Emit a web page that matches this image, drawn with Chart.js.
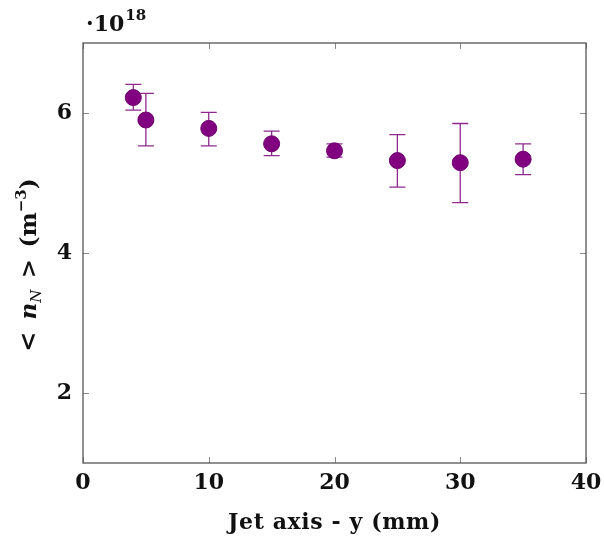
<!DOCTYPE html>
<html>
<head>
<meta charset="utf-8">
<script src="https://cdn.jsdelivr.net/npm/chart.js@4.4.1/dist/chart.umd.min.js"></script>
<style>
  html, body { margin: 0; padding: 0; background: #fff; }
  #wrap { width: 604px; height: 539px; }
</style>
</head>
<body>
<div id="wrap"><canvas id="density"></canvas></div>
<script>
// jet axis position (mm) and mean density <n_N> in units of 1e18 m^-3
const positions = [4, 5, 10, 15, 20, 25, 30, 35];
const density = [6.22, 5.90, 5.78, 5.56, 5.46, 5.32, 5.29, 5.34];
const densityHigh = [6.41, 6.28, 6.01, 5.74, 5.56, 5.69, 5.85, 5.56];
const densityLow = [6.04, 5.53, 5.53, 5.39, 5.37, 4.94, 4.72, 5.12];

const xTicks = [0, 10, 20, 30, 40];
const yTicks = [2, 4, 6];

const serif = '"DejaVu Serif", serif';
const purple = '#800080';

// error bars, box frame with inward ticks, and the math-style labels
const decorations = {
  id: 'decorations',
  beforeDatasetsDraw(chart) {
    const ctx = chart.ctx;
    const xs = chart.scales.x, ys = chart.scales.y;
    ctx.save();
    ctx.strokeStyle = '#8e2a8e';
    ctx.lineWidth = 1.3;
    positions.forEach((p, i) => {
      const px = xs.getPixelForValue(p);
      const top = ys.getPixelForValue(densityHigh[i]);
      const bot = ys.getPixelForValue(densityLow[i]);
      ctx.beginPath();
      ctx.moveTo(px, top); ctx.lineTo(px, bot);
      ctx.moveTo(px - 8, top); ctx.lineTo(px + 8, top);
      ctx.moveTo(px - 8, bot); ctx.lineTo(px + 8, bot);
      ctx.stroke();
    });
    ctx.restore();
  },
  afterDraw(chart) {
    const ctx = chart.ctx;
    const a = chart.chartArea;
    const xs = chart.scales.x, ys = chart.scales.y;
    ctx.save();
    // inward tick marks on all four sides
    ctx.strokeStyle = '#8a8a8a';
    ctx.lineWidth = 1;
    ctx.beginPath();
    xTicks.forEach(v => {
      const px = Math.round(xs.getPixelForValue(v)) + 0.5;
      ctx.moveTo(px, a.bottom); ctx.lineTo(px, a.bottom - 6);
      ctx.moveTo(px, a.top); ctx.lineTo(px, a.top + 6);
    });
    yTicks.forEach(v => {
      const py = Math.round(ys.getPixelForValue(v)) + 0.5;
      ctx.moveTo(a.left, py); ctx.lineTo(a.left + 6, py);
      ctx.moveTo(a.right, py); ctx.lineTo(a.right - 6, py);
    });
    ctx.stroke();
    ctx.strokeStyle = '#555';
    ctx.lineWidth = 1.3;
    ctx.strokeRect(a.left, a.top, a.right - a.left, a.bottom - a.top);

    ctx.fillStyle = '#111';
    ctx.textBaseline = 'alphabetic';
    // scale factor above the y axis
    ctx.font = 'bold 22px ' + serif;
    ctx.textAlign = 'left';
    ctx.fillText('·10', a.left + 3, 31);
    const w10 = ctx.measureText('·10').width;
    ctx.font = 'bold 15px ' + serif;
    ctx.fillText('18', a.left + 3 + w10 + 1, 20);

    // x title
    ctx.font = 'bold 22px ' + serif;
    ctx.letterSpacing = '0.6px';
    ctx.textAlign = 'center';
    ctx.fillText('Jet axis - y (mm)', (a.left + a.right) / 2, 529);
    ctx.letterSpacing = '0px';
    ctx.textAlign = 'left';

    // rotated y title: < n_N > (m^-3)
    const parts = [
      ['<\u2002', 'bold 24px ' + serif, 0],
      ['n', 'bold italic 23px ' + serif, 0],
      ['N', 'italic 15px ' + serif, 5],
      ['\u2002>\u2002(m', 'bold 23px ' + serif, 0],
      ['−3', 'bold 15px ' + serif, -10],
      [')', 'bold 23px ' + serif, 0]
    ];
    let total = 0;
    parts.forEach(pt => { ctx.font = pt[1]; total += ctx.measureText(pt[0]).width; });
    ctx.translate(36, 265);
    ctx.rotate(-Math.PI / 2);
    let cx = -total / 2;
    parts.forEach(pt => {
      ctx.font = pt[1];
      ctx.fillText(pt[0], cx, pt[2]);
      cx += ctx.measureText(pt[0]).width;
    });
    ctx.restore();
  }
};

new Chart(document.getElementById('density'), {
  type: 'scatter',
  data: {
    datasets: [{
      data: positions.map((p, i) => ({ x: p, y: density[i] })),
      backgroundColor: purple,
      borderColor: '#6e006e',
      borderWidth: 1,
      pointRadius: 8,
      pointHoverRadius: 8
    }]
  },
  options: {
    responsive: true,
    maintainAspectRatio: false,
    animation: false,
    layout: { padding: { top: 43, right: 18, left: 0, bottom: 0 } },
    plugins: { legend: { display: false }, tooltip: { enabled: false } },
    scales: {
      x: {
        type: 'linear', min: 0, max: 40,
        afterBuildTicks: s => { s.ticks = xTicks.map(v => ({ value: v })); },
        afterFit: s => { s.height = 76; s.paddingLeft = 0; s.paddingRight = 0; },
        grid: { display: false, drawTicks: false },
        border: { display: false },
        ticks: { color: '#111', padding: 7, maxRotation: 0, font: { family: serif, weight: 'bold', size: 22 } }
      },
      y: {
        type: 'linear', min: 1, max: 7,
        afterBuildTicks: s => { s.ticks = yTicks.map(v => ({ value: v })); },
        afterFit: s => { s.width = 83; s.paddingTop = 0; s.paddingBottom = 0; },
        grid: { display: false, drawTicks: false },
        border: { display: false },
        ticks: { color: '#111', padding: 11, font: { family: serif, weight: 'bold', size: 22 } }
      }
    }
  },
  plugins: [decorations]
});
</script>
</body>
</html>
